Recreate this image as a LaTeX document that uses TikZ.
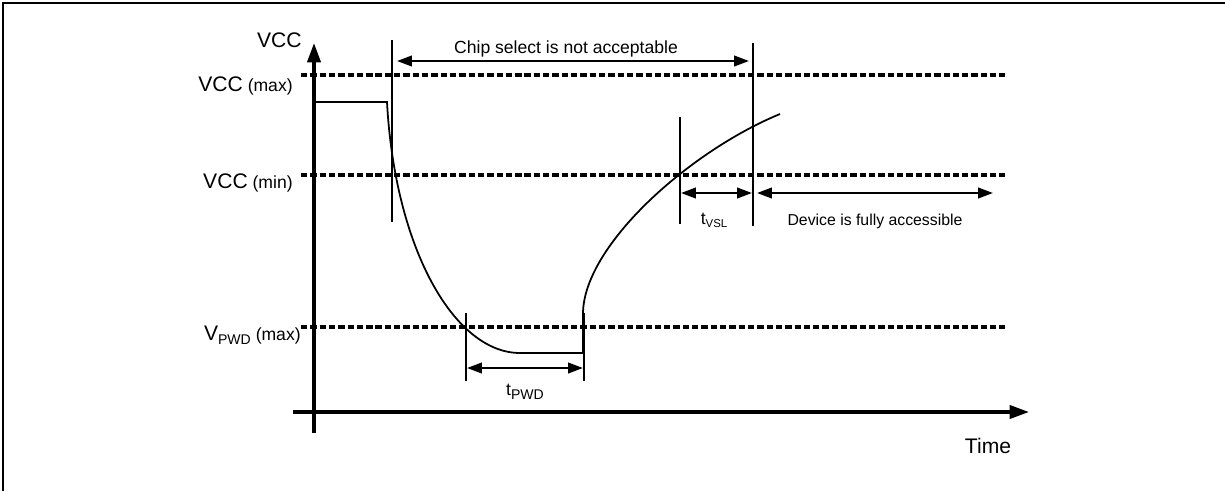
\documentclass[tikz,border=0pt]{standalone}
\usepackage{fontspec}
\setmainfont{Liberation Sans}
\usetikzlibrary{arrows.meta}
\begin{document}
\begin{tikzpicture}[x=0.02cm,y=-0.02cm,
  axis/.style={line width=1.9pt,-{Triangle[length=11pt,width=7.5pt]}},
  lvl/.style={line width=2pt,dash pattern=on 3.6pt off 1.7pt},
  thin/.style={line width=1pt},
  dim/.style={line width=1.3pt,{Triangle[length=8.5pt,width=6pt]}-{Triangle[length=8.5pt,width=6pt]}},
  lbl/.style={inner sep=0pt,anchor=base east},
  txt/.style={inner sep=0pt,anchor=base}]
\useasboundingbox (0,0) rectangle (1225,491);
% frame
\draw[line width=1.7pt] (3,491) -- (3,3) -- (1225,3);
% axes
\coordinate (yb) at (314,433);
\coordinate (yt) at (314,43);
\coordinate (xl) at (293,412);
\coordinate (xr) at (1029,412);
\draw[axis] (yb) -- (yt);
\draw[axis] (xl) -- (xr);
% level lines
\coordinate (maxL) at (301,75);  \coordinate (maxR) at (1005,75);
\coordinate (minL) at (301,175); \coordinate (minR) at (1005,175);
\coordinate (pwdL) at (301,327); \coordinate (pwdR) at (1005,327);
\draw[lvl] (maxL) -- (maxR);
\draw[lvl] (minL) -- (minR);
\draw[lvl] (pwdL) -- (pwdR);
% labels
\node[lbl,font=\fontsize{12}{14}\selectfont] (lvcc) at (302,47) {VCC};
\node[lbl] (lmax) at (293,91) {{\fontsize{12}{14}\selectfont VCC} {\fontsize{10}{12}\selectfont(max)}};
\node[lbl] (lmin) at (293,188) {{\fontsize{12}{14}\selectfont VCC} {\fontsize{10}{12}\selectfont(min)}};
\node[lbl] (lpwd) at (301,340) {{\fontsize{12}{14}\selectfont V}{\fontsize{8}{10}\selectfont\raisebox{-0.55ex}{PWD}} {\fontsize{10}{12}\selectfont(max)}};
\node[txt,font=\fontsize{12}{14}\selectfont] (ltime) at (988,453) {Time};
% waveform
\coordinate (w0) at (314,102);
\coordinate (w1) at (387,102);
\coordinate (w2) at (520,353);
\coordinate (w3) at (583,353);
\coordinate (w4) at (583,313);
\coordinate (w5) at (780,114);
\draw[thin] (w0) -- (w1) .. controls (395,250) and (455,353) .. (w2) -- (w3) -- (w4)
  .. controls (584,245) and (690,151) .. (w5);
% vertical markers
\coordinate (v1t) at (392,40);  \coordinate (v1b) at (392,222);
\coordinate (v2t) at (753,43);  \coordinate (v2b) at (753,226);
\coordinate (v3t) at (680,117); \coordinate (v3b) at (680,224);
\coordinate (v4t) at (466,313); \coordinate (v4b) at (466,381);
\coordinate (v5t) at (584,313); \coordinate (v5b) at (584,381);
\draw[thin] (v1t) -- (v1b);
\draw[thin] (v2t) -- (v2b);
\draw[thin] (v3t) -- (v3b);
\draw[line width=1.3pt] (v4t) -- (v4b);
\draw[line width=1.3pt] (v5t) -- (v5b);
% dimension arrows
\coordinate (csL) at (397,61);  \coordinate (csR) at (749,61);
\coordinate (vsL) at (681,193); \coordinate (vsR) at (752,193);
\coordinate (daL) at (757,193); \coordinate (daR) at (993,193);
\coordinate (pwL) at (467,368); \coordinate (pwR) at (583,368);
\draw[dim] (csL) -- (csR);
\draw[dim] (vsL) -- (vsR);
\draw[dim] (daL) -- (daR);
\draw[dim] (pwL) -- (pwR);
\node[txt,font=\fontsize{10}{12}\selectfont] (lcs) at (566,53) {Chip select is not acceptable};
\node[txt,font=\fontsize{9}{11}\selectfont] (lda) at (875,225) {Device is fully accessible};
\node[txt] (lvsl) at (714,224) {{\fontsize{10}{12}\selectfont t}{\fontsize{6.5}{8}\selectfont\raisebox{-0.6ex}{VSL}}};
\node[txt] (lpw) at (525,395) {{\fontsize{10}{12}\selectfont t}{\fontsize{8}{10}\selectfont\raisebox{-0.6ex}{PWD}}};
\end{tikzpicture}
\end{document}
